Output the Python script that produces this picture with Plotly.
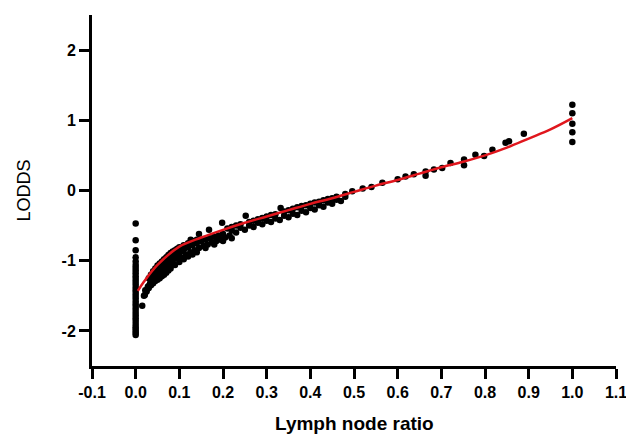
import plotly.graph_objects as go

# LNR = 0 column
zero_y = [-0.47, -0.71, -0.85, -0.95, -1.01, -1.06, -1.10, -1.14, -1.18, -1.22, -1.26,
          -1.30, -1.34, -1.38, -1.42, -1.46, -1.50, -1.54, -1.58, -1.62, -1.66, -1.70,
          -1.74, -1.78, -1.82, -1.86, -1.90, -1.94, -1.97, -2.00, -2.03, -2.06]

# lower edge of the dense band
low_x = [0.015, 0.019, 0.025, 0.030, 0.035, 0.040, 0.045, 0.050, 0.055, 0.060, 0.065,
         0.070, 0.075, 0.080, 0.090, 0.100, 0.110, 0.120, 0.130, 0.140, 0.160, 0.180,
         0.200, 0.220, 0.23, 0.25, 0.27, 0.29, 0.31, 0.33, 0.35, 0.37, 0.39, 0.41, 0.43,
         0.45, 0.47]
low_y = [-1.64, -1.50, -1.44, -1.39, -1.35, -1.32, -1.29, -1.27, -1.25, -1.22, -1.20,
         -1.17, -1.14, -1.11, -1.06, -1.02, -0.98, -0.94, -0.91, -0.88, -0.82, -0.77,
         -0.72, -0.68, -0.60, -0.56, -0.52, -0.48, -0.45, -0.42, -0.38, -0.35, -0.31,
         -0.27, -0.23, -0.19, -0.15]

# middle of the band
mid_x = [0.022, 0.028, 0.033, 0.038, 0.043, 0.048, 0.053, 0.058, 0.063, 0.068, 0.073,
         0.078, 0.085, 0.095, 0.105, 0.115, 0.125, 0.135, 0.145, 0.155, 0.165, 0.175,
         0.185, 0.195, 0.205, 0.215, 0.22, 0.24, 0.26, 0.28, 0.30, 0.32, 0.34, 0.36,
         0.38, 0.40, 0.42, 0.44, 0.46, 0.48]
mid_y = [-1.42, -1.37, -1.33, -1.30, -1.26, -1.23, -1.21, -1.18, -1.15, -1.12, -1.09,
         -1.06, -1.02, -0.97, -0.96, -0.92, -0.88, -0.85, -0.82, -0.79, -0.77, -0.74,
         -0.72, -0.70, -0.67, -0.64, -0.57, -0.53, -0.50, -0.46, -0.43, -0.40, -0.36,
         -0.33, -0.29, -0.25, -0.21, -0.17, -0.13, -0.09]

# points on and above the curve
band_x = [0.021, 0.024, 0.027, 0.030, 0.033, 0.036, 0.040, 0.043, 0.046, 0.050, 0.055,
          0.060, 0.065, 0.070, 0.075, 0.080, 0.085, 0.090, 0.095, 0.100, 0.105, 0.110,
          0.120, 0.130, 0.140, 0.150, 0.160, 0.170, 0.180, 0.190, 0.200,
          0.030, 0.035, 0.040, 0.045, 0.050, 0.055, 0.060, 0.065, 0.070, 0.075, 0.080,
          0.085, 0.090, 0.095, 0.100, 0.110, 0.120, 0.130, 0.140,
          0.126, 0.145, 0.168, 0.198, 0.252, 0.332,
          0.21, 0.22, 0.23, 0.24, 0.26, 0.27, 0.28, 0.29, 0.30, 0.31, 0.32, 0.34, 0.35,
          0.36, 0.37, 0.38, 0.39, 0.40, 0.41, 0.42, 0.43, 0.44, 0.45, 0.46, 0.48, 0.496,
          0.52, 0.54, 0.565, 0.60, 0.618, 0.637, 0.664, 0.664, 0.683, 0.702, 0.721,
          0.752, 0.752, 0.778, 0.798, 0.817, 0.847, 0.855, 0.889,
          1.0, 1.0, 1.0, 1.0, 1.0]
band_y = [-1.49, -1.44, -1.40, -1.36, -1.33, -1.30, -1.26, -1.23, -1.20, -1.17, -1.13,
          -1.10, -1.07, -1.04, -1.01, -0.98, -0.96, -0.93, -0.91, -0.89, -0.87, -0.85,
          -0.81, -0.78, -0.75, -0.72, -0.70, -0.68, -0.66, -0.64, -0.62,
          -1.25, -1.20, -1.15, -1.11, -1.07, -1.04, -1.01, -0.98, -0.95, -0.92, -0.89,
          -0.87, -0.85, -0.83, -0.81, -0.78, -0.75, -0.72, -0.70,
          -0.70, -0.62, -0.56, -0.46, -0.36, -0.25,
          -0.54, -0.52, -0.50, -0.48, -0.45, -0.43, -0.41, -0.39, -0.37, -0.35, -0.34,
          -0.30, -0.28, -0.26, -0.24, -0.22, -0.21, -0.19, -0.17, -0.16, -0.14, -0.12,
          -0.11, -0.09, -0.05, -0.01,
          0.03, 0.05, 0.11, 0.16, 0.20, 0.23, 0.27, 0.21, 0.30, 0.32, 0.39,
          0.44, 0.36, 0.51, 0.49, 0.58, 0.68, 0.70, 0.81,
          1.22, 1.10, 0.95, 0.83, 0.69]

# fitted curve
fit_x = [0.005, 0.02, 0.05, 0.10, 0.15, 0.20, 0.25, 0.30, 0.35, 0.40, 0.45, 0.50,
         0.55, 0.60, 0.65, 0.70, 0.75, 0.80, 0.85, 0.90, 0.95, 1.00]
fit_y = [-1.43, -1.29, -1.06, -0.80, -0.67, -0.56, -0.46, -0.37, -0.28, -0.19, -0.11, -0.02,
         0.07, 0.15, 0.24, 0.33, 0.41, 0.50, 0.61, 0.74, 0.87, 1.03]

x_ticks = [-0.1, 0.0, 0.1, 0.2, 0.3, 0.4, 0.5, 0.6, 0.7, 0.8, 0.9, 1.0, 1.1]
x_labels = ["-0.1", "0.0", "0.1", "0.2", "0.3", "0.4", "0.5", "0.6", "0.7", "0.8", "0.9", "1.0", "1.1"]
y_ticks = [-2, -1, 0, 1, 2]
y_labels = ["-2", "-1", "0", "1", "2"]

dots = dict(color="black", size=6.5)
fig = go.Figure()
fig.add_trace(go.Scatter(x=[0.0] * len(zero_y), y=zero_y, mode="markers", marker=dots))
fig.add_trace(go.Scatter(x=low_x, y=low_y, mode="markers", marker=dots))
fig.add_trace(go.Scatter(x=mid_x, y=mid_y, mode="markers", marker=dots))
fig.add_trace(go.Scatter(x=band_x, y=band_y, mode="markers", marker=dots))
fig.add_trace(go.Scatter(x=fit_x, y=fit_y, mode="lines",
                         line=dict(color="#e0161d", width=2.5, shape="spline")))

tickfont = dict(family="Liberation Sans, Arial", size=16, color="black", weight="bold")
fig.update_layout(
    width=626, height=435,
    margin=dict(l=92, r=10, t=15, b=69),
    paper_bgcolor="white", plot_bgcolor="white",
    showlegend=False,
    font=dict(family="Liberation Sans, Arial", color="black"),
    xaxis=dict(range=[-0.1, 1.1], tickvals=x_ticks, ticktext=x_labels,
               showline=True, linewidth=3, linecolor="black",
               ticks="outside", ticklen=10, tickwidth=3, tickcolor="black",
               showgrid=False, zeroline=False, tickfont=tickfont, automargin=False,
               ticklabeloverflow="allow"),
    yaxis=dict(range=[-2.5, 2.5], tickvals=y_ticks, ticktext=y_labels,
               showline=True, linewidth=3, linecolor="black",
               ticks="outside", ticklen=10, tickwidth=3, tickcolor="black",
               showgrid=False, zeroline=False, tickfont=tickfont, automargin=False),
    annotations=[
        dict(text="Lymph node ratio", xref="paper", yref="paper", x=0.5, y=0,
             xanchor="center", yanchor="middle", yshift=-57, showarrow=False,
             font=dict(size=19, weight="bold")),
        dict(text="LODDS", xref="paper", yref="paper", x=0, y=0.5, textangle=-90,
             xanchor="center", yanchor="middle", xshift=-69, showarrow=False,
             font=dict(size=18)),
    ],
)

# drop the default 8px body margin so the figure fills the window
fig.write_html("out.html", config={"displayModeBar": False},
               post_script="document.body.style.margin = '0px';")
